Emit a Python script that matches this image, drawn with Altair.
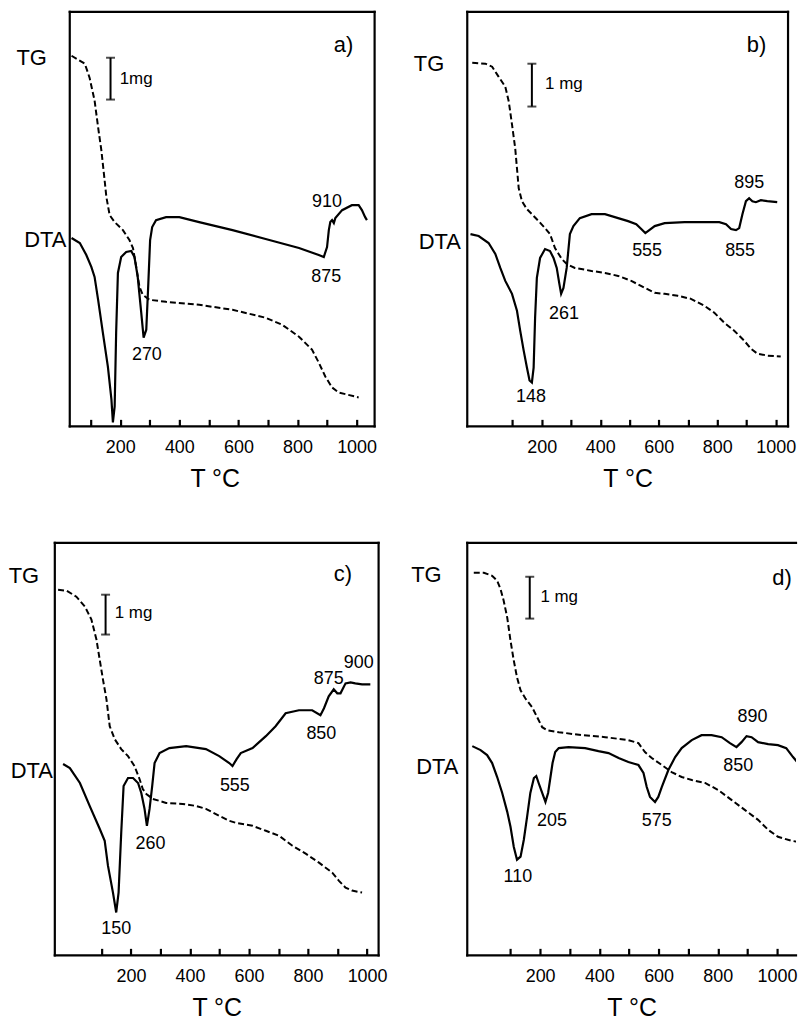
import altair as alt
import pandas as pd

FONT = "Liberation Sans"

# ---------------- panel a ----------------
a_tg_T = [35, 80, 96, 113, 125, 136, 147, 153, 164, 181, 209, 231, 243, 254, 265, 276, 299, 355, 467, 580, 692, 748, 805, 849, 872, 894, 917, 939, 1007]
a_tg_s = [372, 364, 350, 327, 300, 277, 247, 230, 212, 205, 197, 187, 179, 160, 140, 132, 127, 125, 122, 117, 109, 102, 90, 77, 64, 50, 39, 34, 29]
a_dta_T = [35, 63, 85, 102, 113, 125, 141, 158, 170, 175, 181, 186, 192, 203, 220, 237, 248, 259, 271, 279, 288, 295, 301, 308, 321, 355, 400, 467, 580, 692, 805, 872, 889, 900, 906, 911, 917, 923, 928, 951, 984, 1007, 1018, 1029, 1035]
a_dta_s = [189, 184, 172, 160, 150, 127, 94, 60, 27, 4, 20, 94, 154, 170, 175, 176, 170, 150, 114, 89, 97, 144, 187, 200, 207, 210, 210, 205, 197, 188, 179, 172, 170, 180, 197, 205, 207, 204, 209, 217, 222, 222, 217, 210, 207]
a_peak_txt = ["270", "875", "910"]
a_peak_T = [290, 897, 900]
a_peak_s = [72, 150, 225]

# ---------------- panel b ----------------
b_tg_T = [-38, 7, 30, 52, 75, 87, 98, 109, 115, 121, 132, 149, 166, 189, 211, 228, 245, 268, 285, 313, 370, 416, 461, 506, 552, 586, 620, 665, 710, 756, 790, 824, 858, 892, 915, 937, 971, 1017]
b_tg_s = [365, 364, 361, 351, 341, 326, 303, 279, 259, 239, 226, 218, 213, 206, 199, 193, 179, 168, 163, 159, 156, 154, 151, 146, 139, 134, 133, 131, 128, 121, 114, 104, 96, 86, 78, 73, 71, 70]
b_dta_T = [-44, -16, 18, 41, 58, 75, 98, 115, 126, 138, 149, 158, 166, 172, 177, 183, 194, 211, 228, 240, 251, 260, 266, 274, 285, 296, 308, 330, 370, 416, 461, 495, 523, 540, 554, 563, 586, 620, 688, 756, 807, 830, 847, 864, 875, 886, 898, 909, 920, 932, 949, 971, 1005]
b_dta_s = [193, 191, 184, 173, 159, 146, 133, 116, 96, 76, 59, 46, 44, 59, 109, 149, 169, 178, 176, 169, 159, 143, 133, 139, 159, 193, 201, 209, 213, 213, 209, 206, 203, 198, 194, 196, 201, 204, 205, 205, 205, 203, 198, 197, 199, 213, 226, 229, 226, 225, 227, 226, 225]
b_peak_txt = ["148", "261", "555", "855", "895"]
b_peak_T = [163, 276, 560, 878, 909]
b_peak_s = [29, 113, 176, 176, 244]

# ---------------- panel c ----------------
c_tg_T = [-47, -18, 15, 44, 66, 83, 94, 105, 117, 128, 145, 167, 190, 212, 229, 240, 252, 274, 319, 375, 420, 454, 499, 533, 555, 612, 657, 702, 747, 792, 837, 882, 904, 927, 949, 983]
c_tg_s = [367, 366, 360, 350, 337, 317, 297, 277, 257, 230, 217, 207, 200, 190, 177, 167, 162, 157, 153, 152, 150, 147, 140, 135, 133, 130, 125, 120, 110, 102, 93, 83, 75, 68, 65, 63]
c_dta_T = [-30, -7, 27, 60, 94, 111, 122, 139, 150, 158, 167, 175, 190, 207, 224, 235, 246, 254, 263, 272, 280, 297, 330, 387, 454, 499, 533, 544, 558, 572, 612, 657, 690, 724, 769, 814, 842, 854, 870, 887, 899, 910, 927, 944, 960, 983, 1011]
c_dta_s = [192, 188, 173, 150, 127, 115, 90, 63, 43, 63, 123, 170, 178, 178, 173, 163, 147, 130, 147, 170, 193, 203, 208, 210, 207, 200, 193, 190, 197, 203, 208, 220, 230, 243, 246, 246, 241, 248, 260, 267, 263, 263, 273, 274, 273, 272, 272]
c_peak_txt = ["150", "260", "555", "850", "875", "900"]
c_peak_T = [150, 266, 552, 845, 870, 972]
c_peak_s = [26, 112, 170, 222, 277, 293]

# ---------------- panel d ----------------
d_tg_T = [-24, 10, 38, 55, 66, 77, 89, 100, 111, 122, 134, 150, 173, 190, 207, 223, 263, 341, 420, 498, 532, 554, 577, 611, 644, 678, 712, 757, 801, 846, 891, 936, 970, 1003, 1048, 1091]
d_tg_s = [384, 384, 381, 376, 368, 356, 339, 316, 296, 279, 266, 258, 249, 239, 229, 226, 224, 221, 219, 216, 213, 204, 198, 191, 184, 179, 176, 173, 166, 156, 146, 136, 126, 119, 115, 113]
d_dta_T = [-29, -1, 21, 38, 55, 72, 89, 100, 111, 122, 134, 145, 156, 167, 179, 187, 195, 207, 218, 227, 235, 242, 251, 263, 296, 352, 397, 431, 465, 498, 532, 549, 560, 571, 588, 599, 611, 633, 656, 678, 712, 745, 779, 813, 841, 863, 880, 897, 914, 936, 970, 1003, 1031, 1054, 1071, 1088]
d_dta_s = [210, 206, 201, 193, 179, 163, 144, 129, 109, 96, 99, 116, 139, 163, 178, 180, 173, 163, 154, 163, 179, 193, 204, 208, 209, 208, 205, 203, 198, 194, 191, 183, 169, 159, 154, 159, 169, 186, 199, 208, 216, 221, 221, 219, 213, 209, 214, 220, 219, 214, 212, 211, 208, 199, 193, 186]
d_peak_txt = ["110", "205", "575", "850", "890"]
d_peak_T = [125, 240, 594, 869, 917]
d_peak_s = [79, 135, 135, 190, 239]

# axis ticks (every 100 °C), labelled every 200 °C
tick_T = [100, 200, 300, 400, 500, 600, 700, 800, 900, 1000]

# per-panel: view x domain (°C), frame x range (°C), plot size, annotation anchors
panels = {
    "a": dict(xdom=[-21.6, 1061], frame=[29, 1061], right=True, w=321, h=416,
              tg=a_tg_T, tgs=a_tg_s, dta=a_dta_T, dtas=a_dta_s,
              pt=a_peak_txt, pT=a_peak_T, ps=a_peak_s, letter="a)", letT=956, lets=383,
              side=[("TG", -100, 370), ("DTA", -54, 187)], bar=(167, 370, 328),
              mg=("1mg", 198, 349)),
    "b": dict(xdom=[-55, 1042], frame=[-55, 1042], right=True, w=322, h=416,
              tg=b_tg_T, tgs=b_tg_s, dta=b_dta_T, dtas=b_dta_s,
              pt=b_peak_txt, pT=b_peak_T, ps=b_peak_s, letter="b)", letT=934, lets=383,
              side=[("TG", -186, 364), ("DTA", -149, 185)], bar=(166, 364, 321),
              mg=("1 mg", 211, 344)),
    "c": dict(xdom=[-58, 1039], frame=[-58, 1039], right=True, w=325, h=414,
              tg=c_tg_T, tgs=c_tg_s, dta=c_dta_T, dtas=c_dta_s,
              pt=c_peak_txt, pT=c_peak_T, ps=c_peak_s, letter="c)", letT=918, lets=383,
              side=[("TG", -163, 381), ("DTA", -136, 185)], bar=(114, 362, 322),
              mg=("1 mg", 145, 344)),
    "d": dict(xdom=[-46, 1064], frame=[-46, 1064], right=False, w=330, h=414,
              tg=d_tg_T, tgs=d_tg_s, dta=d_dta_T, dtas=d_dta_s,
              pt=d_peak_txt, pT=d_peak_T, ps=d_peak_s, letter="d)", letT=1017, lets=379,
              side=[("TG", -184, 382), ("DTA", -147, 189)], bar=(165, 380, 338),
              mg=("1 mg", 201, 360)),
}

# The axis is lifted 7 px into the plot so its ticks point inward from the bottom edge.
X_AXIS = alt.Axis(
    values=tick_T, labelExpr="datum.value % 200 == 0 ? datum.label : ''",
    format="d", title="T °C", grid=False, domain=False, offset=-7,
    ticks=True, tickSize=7, tickWidth=2.2, tickColor="black",
    labelFont=FONT, labelFontSize=18, labelColor="black",
    labelPadding=12, labelFlush=False, labelOverlap=False, titleFont=FONT, titleFontSize=25,
    titleFontWeight="normal", titleColor="black", titlePadding=10)


def panel(p):
    xs = alt.Scale(domain=p["xdom"], nice=False, zero=False)
    ys = alt.Scale(domain=[0, p["h"]], nice=False, zero=False)

    def X(f):
        return alt.X(f, type="quantitative", scale=xs, axis=X_AXIS)

    def Y(f):
        return alt.Y(f, type="quantitative", scale=ys, axis=None)

    f0, f1 = p["frame"]
    h = p["h"]
    # frame sides: left, bottom, top, and right where the panel shows it
    fx, fx2, fy, fy2 = [f0, f0, f0], [f0, f1, f1], [0, 0, h], [h, 0, h]
    if p["right"]:
        fx.append(f1); fx2.append(f1); fy.append(0); fy2.append(h)
    frame_df = pd.DataFrame({"x": fx, "x2": fx2, "y": fy, "y2": fy2})
    frame = alt.Chart(frame_df).mark_rule(color="black", strokeWidth=2.2, strokeCap="square").encode(
        x=X("x"), x2="x2:Q", y=Y("y"), y2="y2:Q")

    tg_df = pd.DataFrame({"T": p["tg"], "s": p["tgs"], "i": range(len(p["tg"]))})
    tg = alt.Chart(tg_df).mark_line(color="black", strokeWidth=2, strokeDash=[6, 3], clip=True).encode(
        x=X("T"), y=Y("s"), order="i:Q")

    dta_df = pd.DataFrame({"T": p["dta"], "s": p["dtas"], "i": range(len(p["dta"]))})
    dta = alt.Chart(dta_df).mark_line(color="black", strokeWidth=2.2, clip=True).encode(
        x=X("T"), y=Y("s"), order="i:Q")

    pk_df = pd.DataFrame({"T": p["pT"], "s": p["ps"], "t": p["pt"]})
    peaks = alt.Chart(pk_df).mark_text(font=FONT, fontSize=18, color="black").encode(
        x=X("T"), y=Y("s"), text="t:N")

    let_df = pd.DataFrame({"T": [p["letT"]], "s": [p["lets"]], "t": [p["letter"]]})
    letter = alt.Chart(let_df).mark_text(font=FONT, fontSize=22, color="black").encode(
        x=X("T"), y=Y("s"), text="t:N")

    side_df = pd.DataFrame({"t": [s[0] for s in p["side"]], "T": [s[1] for s in p["side"]],
                            "s": [s[2] for s in p["side"]]})
    side = alt.Chart(side_df).mark_text(font=FONT, fontSize=22, color="black").encode(
        x=X("T"), y=Y("s"), text="t:N")

    bT, b0, b1 = p["bar"]
    bar_df = pd.DataFrame({"T": [bT], "s0": [b0], "s1": [b1]})
    bar = alt.Chart(bar_df).mark_rule(color="black", strokeWidth=2).encode(
        x=X("T"), y=Y("s0"), y2="s1:Q")
    caps_df = pd.DataFrame({"T": [bT, bT], "s": [b0, b1]})
    caps = alt.Chart(caps_df).mark_tick(color="black", orient="horizontal", size=9, thickness=2).encode(
        x=X("T"), y=Y("s"))
    mt, mT, ms = p["mg"]
    mg_df = pd.DataFrame({"T": [mT], "s": [ms], "t": [mt]})
    mg = alt.Chart(mg_df).mark_text(font=FONT, fontSize=17, color="black", align="left").encode(
        x=X("T"), y=Y("s"), text="t:N")

    return alt.layer(frame, tg, dta, peaks, letter, side, bar, caps, mg).properties(
        width=p["w"], height=h)


pa, pb, pc, pdd = (panel(panels[k]) for k in "abcd")
chart = alt.concat(
    pa, pb, pc, pdd, columns=2,
    spacing=alt.RowColnumber(row=50, column=23),
).properties(
    padding={"left": 0, "top": 0, "right": 0, "bottom": 0},
    background="white",
).configure_view(stroke="transparent", strokeWidth=0)

chart.save("out.html", embed_options={"renderer": "svg", "actions": False})
